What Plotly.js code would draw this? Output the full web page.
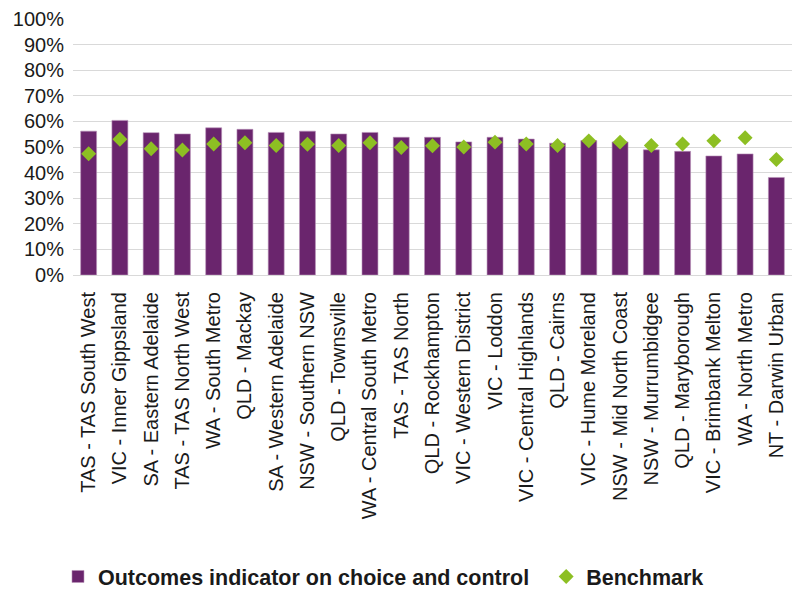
<!DOCTYPE html>
<html>
<head>
<meta charset="utf-8">
<script src="https://cdn.plot.ly/plotly-3.0.1.min.js"></script>
<style>html,body{margin:0;padding:0;background:#fff;}#chart{width:792px;height:597px;}</style>
</head>
<body>
<div id="chart"></div>
<script>
const regions = [
  "TAS - TAS South West", "VIC - Inner Gippsland", "SA - Eastern Adelaide", "TAS - TAS North West",
  "WA - South Metro", "QLD - Mackay", "SA - Western Adelaide", "NSW - Southern NSW",
  "QLD - Townsville", "WA - Central South Metro", "TAS - TAS North", "QLD - Rockhampton",
  "VIC - Western District", "VIC - Loddon", "VIC - Central Highlands", "QLD - Cairns",
  "VIC - Hume Moreland", "NSW - Mid North Coast", "NSW - Murrumbidgee", "QLD - Maryborough",
  "VIC - Brimbank Melton", "WA - North Metro", "NT - Darwin Urban"
];
const outcomes = [0.562, 0.604, 0.556, 0.551, 0.575, 0.569, 0.557, 0.562,
  0.551, 0.557, 0.538, 0.538, 0.520, 0.538, 0.531, 0.515,
  0.525, 0.520, 0.489, 0.483, 0.465, 0.473, 0.381];
const benchmark = [0.474, 0.530, 0.493, 0.488, 0.512, 0.517, 0.506, 0.511,
  0.506, 0.517, 0.498, 0.505, 0.500, 0.519, 0.512, 0.506,
  0.524, 0.519, 0.506, 0.512, 0.524, 0.536, 0.451];
const yTicks = [0, 0.1, 0.2, 0.3, 0.4, 0.5, 0.6, 0.7, 0.8, 0.9, 1.0];
const yTickText = ["0%", "10%", "20%", "30%", "40%", "50%", "60%", "70%", "80%", "90%", "100%"];

const font = "'Liberation Sans', Arial, sans-serif";
const traces = [
  {
    type: "bar", x: regions, y: outcomes, name: "Outcomes indicator on choice and control\u00a0\u00a0",
    marker: {color: "#6a256d", line: {color: "#b892b8", width: 0.6}}
  },
  {
    type: "scatter", mode: "markers", x: regions, y: benchmark, name: "Benchmark",
    marker: {symbol: "diamond", size: 11.5, color: "#8dbf23"}
  }
];
const layout = {
  width: 792, height: 597,
  margin: {l: 73, r: 0, t: 19, b: 319},
  paper_bgcolor: "#fff", plot_bgcolor: "#fff",
  font: {family: font, size: 20, color: "#1a1a1a"},
  bargap: 0.49,
  showlegend: true,
  legend: {
    orientation: "h", x: -0.0209, xanchor: "left", y: -1.181, yanchor: "middle",
    font: {family: font, size: 21.5, color: "#1a1a1a", weight: "bold"},
    traceorder: "normal", itemclick: false
  },
  xaxis: {
    type: "category", range: [-0.5, regions.length - 0.5], tickangle: -90, showgrid: false, showline: true,
    linecolor: "#d9d9d9", linewidth: 1, ticks: "", ticklabelstandoff: 8,
    tickfont: {family: font, size: 20, color: "#1a1a1a"}, fixedrange: true
  },
  yaxis: {
    range: [0, 1], tickvals: yTicks, ticktext: yTickText, showgrid: true,
    gridcolor: "#d9d9d9", gridwidth: 1, zeroline: false, showline: false, ticks: "",
    ticklabelstandoff: 8,
    tickfont: {family: font, size: 20, color: "#1a1a1a"}, fixedrange: true
  }
};
Plotly.newPlot("chart", traces, layout, {displayModeBar: false, staticPlot: true});
</script>
</body>
</html>
